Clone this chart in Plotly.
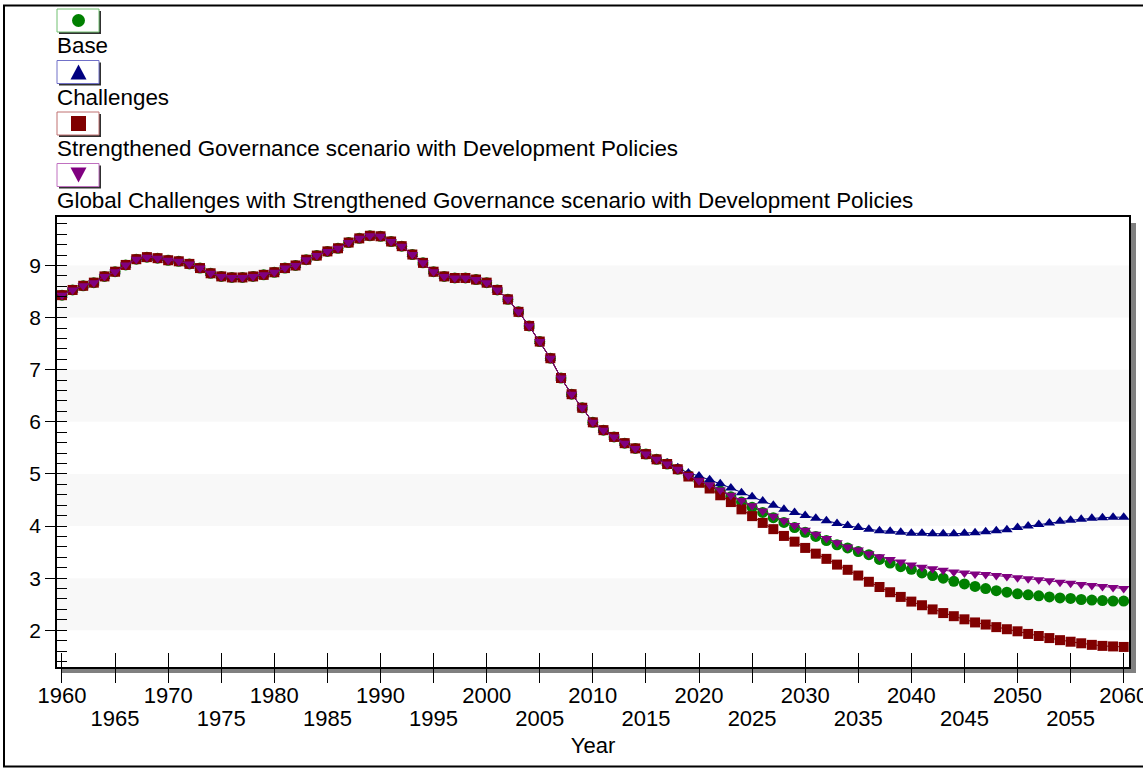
import plotly.graph_objects as go

# data
years = list(range(1960, 2061))

# shared history 1960-2016
history = [
    8.43, 8.53, 8.61, 8.67, 8.79, 8.88, 9.01, 9.12, 9.16, 9.14,
    9.10, 9.08, 9.03, 8.95, 8.85, 8.79, 8.77, 8.77, 8.79, 8.82,
    8.87, 8.95, 9.00, 9.11, 9.19, 9.27, 9.33, 9.44, 9.52, 9.57,
    9.56, 9.46, 9.37, 9.21, 9.05, 8.88, 8.79, 8.76, 8.76, 8.73,
    8.67, 8.53, 8.35, 8.11, 7.84, 7.54, 7.22, 6.84, 6.53, 6.27,
    5.99, 5.84, 5.71, 5.59, 5.49, 5.38, 5.28,
]

# scenario paths 2017-2060
base_proj = [
    5.19, 5.09, 4.97, 4.86, 4.77, 4.67, 4.56, 4.46, 4.36, 4.26,
    4.16, 4.07, 3.97, 3.88, 3.80, 3.72, 3.64, 3.58, 3.51, 3.45,
    3.36, 3.29, 3.22, 3.17, 3.10, 3.05, 3.00, 2.94, 2.89, 2.84,
    2.80, 2.76, 2.73, 2.70, 2.68, 2.66, 2.64, 2.62, 2.61, 2.59,
    2.58, 2.57, 2.56, 2.56,
]
challenges_proj = [
    5.21, 5.12, 5.02, 4.96, 4.89, 4.81, 4.73, 4.64, 4.56, 4.48,
    4.40, 4.32, 4.26, 4.20, 4.15, 4.10, 4.05, 4.01, 3.97, 3.94,
    3.91, 3.90, 3.88, 3.86, 3.86, 3.85, 3.85, 3.85, 3.86, 3.87,
    3.89, 3.91, 3.93, 3.97, 4.00, 4.03, 4.06, 4.09, 4.11, 4.13,
    4.15, 4.16, 4.17, 4.17,
]
sg_proj = [
    5.19, 5.09, 4.95, 4.83, 4.72, 4.59, 4.46, 4.32, 4.19, 4.06,
    3.94, 3.81, 3.70, 3.58, 3.47, 3.37, 3.26, 3.16, 3.05, 2.93,
    2.83, 2.73, 2.64, 2.55, 2.48, 2.40, 2.33, 2.27, 2.21, 2.15,
    2.11, 2.06, 2.02, 1.98, 1.93, 1.89, 1.85, 1.81, 1.78, 1.75,
    1.72, 1.70, 1.69, 1.68,
]
gc_sg_proj = [
    5.19, 5.09, 4.97, 4.87, 4.79, 4.69, 4.59, 4.49, 4.39, 4.29,
    4.19, 4.10, 4.01, 3.92, 3.84, 3.76, 3.68, 3.60, 3.54, 3.47,
    3.41, 3.36, 3.31, 3.25, 3.21, 3.18, 3.15, 3.12, 3.10, 3.08,
    3.07, 3.05, 3.03, 3.01, 2.99, 2.97, 2.95, 2.92, 2.90, 2.88,
    2.86, 2.84, 2.82, 2.80,
]

names = [
    "Base",
    "Challenges",
    "Strengthened Governance scenario with Development Policies",
    "Global Challenges with Strengthened Governance scenario with Development Policies",
]
projections = [base_proj, challenges_proj, sg_proj, gc_sg_proj]
colors = ["#008000", "#000080", "#800000", "#800080"]
box_colors = ["#70c070", "#7070c8", "#c07070", "#c070c0"]
symbols = ["circle", "triangle-up", "square", "triangle-down"]
sizes = [11, 10, 10, 10]

x_ticks = list(range(1960, 2061, 5))
x_range = [1959.53, 2060.5]
y_range = [1.295, 9.93]
bands = [(2, 3), (4, 5), (6, 7), (8, 9)]

W, H = 1143, 768
ML, MR, MT, MB = 57, 14, 217, 101
PW, PH = W - ML - MR, H - MT - MB
FONT = "Arial, Liberation Sans, sans-serif"

fig = go.Figure()

for i, (name, proj) in enumerate(zip(names, projections)):
    last = i == len(names) - 1
    fig.add_trace(go.Scatter(
        x=years, y=history + proj, name=name, mode="lines+markers",
        line=dict(color=colors[i], width=1),
        marker=dict(symbol=symbols[i], size=sizes[i], color=colors[i],
                    line=dict(width=0)),
        xaxis="x2" if last else "x", yaxis="y2" if last else "y",
        showlegend=False,
    ))

shapes = []
# alternating background bands
for lo, hi in bands:
    shapes.append(dict(type="rect", xref="paper", yref="y", x0=0, x1=1,
                       y0=lo, y1=hi, fillcolor="#f8f8f8",
                       line=dict(width=0), layer="below"))

# drop shadow of plot frame
shapes.append(dict(type="rect", xref="paper", yref="paper",
                   xsizemode="pixel", xanchor=1, x0=1, x1=7,
                   y0=-6 / PH, y1=1 - 6 / PH, fillcolor="#808080",
                   line=dict(width=0), layer="below"))
shapes.append(dict(type="rect", xref="paper", yref="paper",
                   ysizemode="pixel", yanchor=0, y0=-1, y1=-6,
                   x0=5 / PW, x1=1 + 7 / PW, fillcolor="#808080",
                   line=dict(width=0), layer="below"))

# outer border
shapes.append(dict(type="rect", xref="paper", yref="paper",
                   xsizemode="pixel", ysizemode="pixel", xanchor=0, yanchor=1,
                   x0=4 - ML, x1=W + 20 - ML, y0=MT - 5.5, y1=MT - 766.5,
                   line=dict(color="black", width=2), fillcolor="rgba(0,0,0,0)"))

# custom legend: boxed symbol with label underneath
annotations = []
for i, name in enumerate(names):
    top = 9 + 51.5 * i
    bot = top + 23
    common = dict(xref="paper", yref="paper", xsizemode="pixel",
                  ysizemode="pixel", xanchor=0, yanchor=1)
    shapes.append(dict(type="rect", x0=2, x1=44, y0=MT - top - 2,
                       y1=MT - bot - 2, fillcolor="#303030",
                       line=dict(width=0), **common))
    shapes.append(dict(type="rect", x0=0, x1=42, y0=MT - top, y1=MT - bot,
                       fillcolor="white", line=dict(color=box_colors[i], width=1),
                       **common))
    cx, cy = 21.5, MT - (top + 11.5)
    if symbols[i] == "circle":
        shapes.append(dict(type="circle", x0=cx - 6.5, x1=cx + 6.5,
                           y0=cy - 6.5, y1=cy + 6.5, fillcolor=colors[i],
                           line=dict(width=0), **common))
    elif symbols[i] == "square":
        shapes.append(dict(type="rect", x0=cx - 7.5, x1=cx + 7.5,
                           y0=cy - 7.5, y1=cy + 7.5, fillcolor=colors[i],
                           line=dict(width=0), **common))
    else:
        s = 1 if symbols[i] == "triangle-up" else -1
        path = (f"M{cx - 8},{cy - 7.5 * s} L{cx + 8},{cy - 7.5 * s} "
                f"L{cx},{cy + 7.5 * s} Z")
        shapes.append(dict(type="path", path=path, fillcolor=colors[i],
                           line=dict(width=0), **common))
    annotations.append(dict(xref="paper", yref="paper", x=0, y=1,
                            xanchor="left", yanchor="middle",
                            xshift=-2, yshift=MT - (top + 36.7),
                            text=name, showarrow=False,
                            font=dict(size=22.4, color="black", family=FONT)))

# decades on the upper label row, mid-decades on the lower row
upper_text = [str(y) if y % 10 == 0 else "" for y in x_ticks]
lower_text = [str(y) if y % 10 == 5 else "" for y in x_ticks]

fig.update_layout(
    width=W, height=H,
    margin=dict(l=ML, r=MR, t=MT, b=MB),
    paper_bgcolor="white", plot_bgcolor="white",
    font=dict(family=FONT, size=22, color="black"),
    showlegend=False,
    shapes=shapes, annotations=annotations,
    xaxis=dict(
        range=x_range, tickmode="array", tickvals=x_ticks, ticktext=upper_text,
        ticks="outside", ticklen=14, tickcolor="black", tickwidth=1,
        ticklabelstandoff=-6, tickfont=dict(size=22),
        ticklabeloverflow="allow", automargin=False,
        showline=True, linecolor="black", linewidth=1.5, mirror=True,
        showgrid=False, zeroline=False,
        title=dict(text="Year", standoff=30, font=dict(size=22)),
    ),
    yaxis=dict(
        range=y_range, tick0=0, dtick=1, tickfont=dict(size=21),
        automargin=False,
        ticks="outside", ticklen=10, tickcolor="black", tickwidth=1,
        minor=dict(ticks="inside", ticklen=10, dtick=0.2, tick0=0,
                   tickcolor="black", tickwidth=1, showgrid=False),
        showline=True, linecolor="black", linewidth=1.5, mirror=True,
        showgrid=False, zeroline=False,
    ),
    xaxis2=dict(
        overlaying="x", matches="x", anchor="y2", side="bottom",
        range=x_range, tickmode="array", tickvals=x_ticks, ticktext=lower_text,
        ticks="inside", ticklen=14, tickcolor="black", tickwidth=1,
        ticklabelstandoff=36, tickfont=dict(size=22),
        ticklabeloverflow="allow", automargin=False,
        showline=False, showgrid=False, zeroline=False,
    ),
    yaxis2=dict(
        overlaying="y", matches="y", anchor="x2", side="left",
        range=y_range, tick0=0, dtick=1, automargin=False,
        ticks="inside", ticklen=10, tickcolor="black", tickwidth=1,
        showticklabels=False, showline=False, showgrid=False, zeroline=False,
    ),
)

fig.write_html("out.html", config={"displayModeBar": False},
               post_script="document.body.style.margin='0px';")
